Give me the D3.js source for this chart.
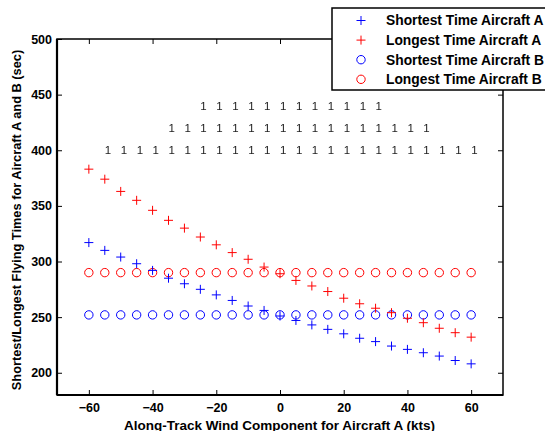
<!DOCTYPE html>
<html>
<head>
<meta charset="utf-8">
<script src="https://cdn.jsdelivr.net/npm/d3@7"></script>
<style>
  body { margin: 0; background: #fff; }
  svg { display: block; font-family: Arial, "Liberation Sans", sans-serif; }
</style>
</head>
<body>
<div class="chart"></div>
<script>
const width = 545
const height = 431
const margin = {top: 39, right: 42, bottom: 36, left: 57}

// wind component (kts)
const wind = [-60, -55, -50, -45, -40, -35, -30, -25, -20, -15, -10, -5, 0, 5, 10, 15, 20, 25, 30, 35, 40, 45, 50, 55, 60]
// flying times (sec)
const shortestA = [317, 310, 304, 298, 292, 285, 280, 275, 270, 265, 260, 256, 251, 247, 243, 239, 235, 231, 228, 224, 221, 218, 215, 211, 208]
const longestA = [383, 374, 363, 355, 346, 337, 330, 322, 315, 308, 302, 295, 289, 283, 278, 273, 267, 262, 258, 254, 249, 245, 240, 236, 232]
const shortestB = [252, 252, 252, 252, 252, 252, 252, 252, 252, 252, 252, 252, 252, 252, 252, 252, 252, 252, 252, 252, 252, 252, 252, 252, 252]
const longestB = [290, 290, 290, 290, 290, 290, 290, 290, 290, 290, 290, 290, 290, 290, 290, 290, 290, 290, 290, 290, 290, 290, 290, 290, 290]

// rows of "1" labels: [y level, first wind, last wind]
const oneRows = [[440, -25, 30], [420, -35, 45], [400, -55, 60]]

const xTicks = [-60, -40, -20, 0, 20, 40, 60]
const yTicks = [200, 250, 300, 350, 400, 450, 500]

const svg = d3.select('.chart')
    .append('svg')
    .attr('width', width)
    .attr('height', height)

// plain filter so the small labels get greyscale anti-aliasing
svg.append('defs').append('filter')
    .attr('id', 'flat')
    .append('feColorMatrix')
    .attr('type', 'identity')

const x = d3.scaleLinear().domain([-70, 70]).range([margin.left, width - margin.right])
const y = d3.scaleLinear().domain([180, 500]).range([height - margin.bottom, margin.top])

// axes with inward ticks on all four sides
const axisStyle = g => {
    g.select('.domain').remove()
    g.selectAll('line').attr('stroke', '#000').attr('stroke-width', 1)
    g.selectAll('text').attr('font-size', 12.5).attr('font-weight', 'bold').attr('fill', '#000')
}
svg.append('g')
    .attr('transform', `translate(0,${y.range()[0]})`)
    .call(d3.axisBottom(x).tickValues(xTicks).tickSizeInner(-5).tickPadding(8).tickSizeOuter(0))
    .call(axisStyle)
svg.append('g')
    .attr('transform', `translate(0,${y.range()[1]})`)
    .call(d3.axisTop(x).tickValues(xTicks).tickSizeInner(-5).tickFormat('').tickSizeOuter(0))
    .call(axisStyle)
svg.append('g')
    .attr('transform', `translate(${x.range()[0]},0)`)
    .call(d3.axisLeft(y).tickValues(yTicks).tickSizeInner(-5).tickPadding(5).tickSizeOuter(0))
    .call(axisStyle)
svg.append('g')
    .attr('transform', `translate(${x.range()[1]},0)`)
    .call(d3.axisRight(y).tickValues(yTicks).tickSizeInner(-5).tickFormat('').tickSizeOuter(0))
    .call(axisStyle)

// box
svg.append('rect')
    .attr('x', x.range()[0])
    .attr('y', y.range()[1])
    .attr('width', x.range()[1] - x.range()[0])
    .attr('height', y.range()[0] - y.range()[1])
    .attr('fill', 'none')
    .attr('stroke', '#000')
    .attr('stroke-width', 1.5)
svg.append('line')
    .attr('x1', x.range()[0]).attr('x2', x.range()[0])
    .attr('y1', y.range()[1]).attr('y2', y.range()[0])
    .attr('stroke', '#000').attr('stroke-width', 2.2)
svg.append('line')
    .attr('x1', x.range()[0]).attr('x2', x.range()[1])
    .attr('y1', y.range()[0]).attr('y2', y.range()[0])
    .attr('stroke', '#000').attr('stroke-width', 2.2)

// "1" labels
const ones = svg.append('g').attr('filter', 'url(#flat)')
oneRows.forEach(([level, from, to]) => {
    const xs = wind.filter(w => w >= from && w <= to)
    ones.append('g')
        .selectAll('text')
        .data(xs)
        .join('text')
            .attr('x', d => x(d))
            .attr('y', y(level))
            .attr('dy', '0.35em')
            .attr('font-size', 11.5)
            .attr('fill', '#222')
            .text('1')
})

// markers
function plus(g, color) {
    g.append('path')
        .attr('d', 'M-4.5,0H4.5M0,-4.5V4.5')
        .attr('stroke', color)
        .attr('stroke-width', 1)
        .attr('fill', 'none')
}
function ring(g, color) {
    g.append('circle')
        .attr('r', 4.2)
        .attr('stroke', color)
        .attr('stroke-width', 1)
        .attr('fill', 'none')
}

const series = [
    {name: 'Shortest Time Aircraft A', values: shortestA, color: '#0000ff', mark: plus},
    {name: 'Longest Time Aircraft A', values: longestA, color: '#ff0000', mark: plus},
    {name: 'Shortest Time Aircraft B', values: shortestB, color: '#0000ff', mark: ring},
    {name: 'Longest Time Aircraft B', values: longestB, color: '#ff0000', mark: ring}
]

// draw B circles first, A crosses on top
;[series[2], series[3], series[0], series[1]].forEach(s => {
    svg.append('g').selectAll('g')
        .data(wind.map((w, i) => [w, s.values[i]]))
        .join('g')
            .attr('transform', d => `translate(${x(d[0])},${y(d[1])})`)
            .each(function() { s.mark(d3.select(this), s.color) })
})

// legend
const legend = svg.append('g').attr('transform', 'translate(332,8)')
legend.append('rect')
    .attr('width', 230)
    .attr('height', 82)
    .attr('fill', '#fff')
    .attr('stroke', '#000')
    .attr('stroke-width', 1.5)
series.forEach((s, i) => {
    const row = legend.append('g').attr('transform', `translate(0,${12.5 + i * 19.6})`)
    const m = row.append('g').attr('transform', 'translate(29,0)')
    s.mark(m, s.color)
    row.append('text')
        .attr('x', 54)
        .attr('dy', '0.35em')
        .attr('font-size', 13.8)
        .attr('font-weight', 'bold')
        .attr('fill', '#000')
        .text(s.name)
})

// axis titles
svg.append('text')
    .attr('x', 279.5)
    .attr('y', 429.5)
    .attr('text-anchor', 'middle')
    .attr('font-size', 13.5)
    .attr('font-weight', 'bold')
    .text('Along-Track Wind Component for Aircraft A (kts)')
svg.append('text')
    .attr('transform', 'translate(21,220) rotate(-90)')
    .attr('text-anchor', 'middle')
    .attr('font-size', 12.8)
    .attr('font-weight', 'bold')
    .text('Shortest/Longest Flying Times for Aircraft A and B (sec)')
</script>
</body>
</html>
